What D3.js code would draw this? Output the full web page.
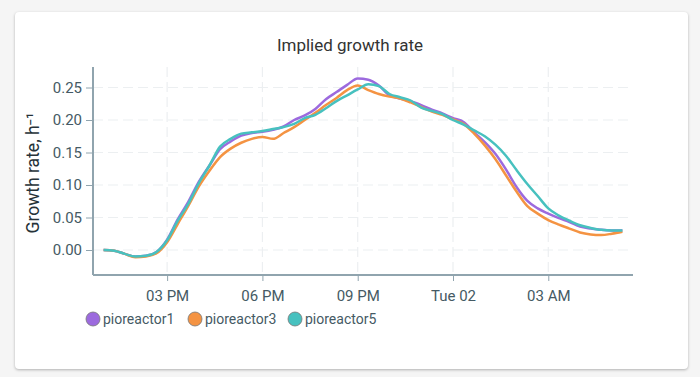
<!DOCTYPE html>
<html>
<head>
<meta charset="utf-8">
<script src="https://cdn.jsdelivr.net/npm/d3@7"></script>
<style>
  body { margin: 0; background: #f5f5f5; font-family: Roboto, sans-serif; }
  .card { position: absolute; left: 15px; top: 12px; width: 673px; height: 357px;
          background: #fff; border-radius: 4px; box-shadow: 0 1px 3px rgba(0,0,0,0.28); }
  svg { position: absolute; left: 0; top: 0; }
</style>
</head>
<body>
<div class="card"></div>
<div id="chart"></div>
<script>
// heures de mesure (lundi 13:00 -> mardi 05:20)
const times = ["13:00","13:20","13:40","14:00","14:20","14:40","15:00","15:20","15:40","16:00",
  "16:20","16:40","17:00","17:20","17:40","18:00","18:20","18:40","19:00","19:20",
  "19:40","20:00","20:20","20:40","21:00","21:20","21:40","22:00","22:20","22:40",
  "23:00","23:20","23:40","00:00","00:20","00:40","01:00","01:20","01:40","02:00",
  "02:20","02:40","03:00","03:20","03:40","04:00","04:20","04:40","05:00","05:20"];

const pioreactor1 = [0.000,-0.001,-0.006,-0.010,-0.009,-0.003,0.016,0.047,0.074,0.105,
  0.130,0.155,0.167,0.176,0.180,0.182,0.185,0.190,0.200,0.207,
  0.217,0.232,0.243,0.254,0.264,0.262,0.253,0.238,0.233,0.229,
  0.223,0.216,0.210,0.203,0.197,0.181,0.166,0.148,0.124,0.097,
  0.076,0.064,0.056,0.049,0.043,0.036,0.033,0.031,0.030,0.030];

const pioreactor3 = [0.000,-0.001,-0.006,-0.011,-0.010,-0.005,0.012,0.040,0.068,0.098,
  0.122,0.143,0.156,0.165,0.171,0.174,0.171,0.180,0.189,0.200,
  0.211,0.223,0.234,0.246,0.253,0.246,0.240,0.236,0.233,0.227,
  0.220,0.213,0.208,0.201,0.194,0.179,0.161,0.140,0.115,0.090,
  0.068,0.056,0.046,0.039,0.033,0.027,0.024,0.023,0.025,0.028];

const pioreactor5 = [0.000,-0.001,-0.006,-0.010,-0.009,-0.003,0.015,0.045,0.071,0.103,
  0.130,0.159,0.171,0.179,0.181,0.183,0.186,0.189,0.194,0.203,
  0.208,0.218,0.229,0.238,0.247,0.255,0.252,0.240,0.235,0.230,
  0.219,0.214,0.209,0.200,0.193,0.184,0.175,0.162,0.145,0.123,
  0.102,0.083,0.064,0.053,0.045,0.038,0.034,0.031,0.030,0.030];

const seriesNames = ["pioreactor1", "pioreactor3", "pioreactor5"];
const seriesColors = ["#9C6ADE", "#F49342", "#47C1BF"];
const yTicks = [0.00, 0.05, 0.10, 0.15, 0.20, 0.25];

// convertir les heures en dates
function parseTime(s) {
  const [h, m] = s.split(":").map(Number);
  return h >= 12 ? new Date(2021, 10, 1, h, m) : new Date(2021, 10, 2, h, m);
}
const dates = times.map(parseTime);
const series = [pioreactor1, pioreactor3, pioreactor5].map((vals, i) => ({
  name: seriesNames[i], color: seriesColors[i],
  values: vals.map((v, j) => ({ t: dates[j], v: v }))
}));

const W = 700, H = 377;
const plot = {left: 93, right: 633, top: 67, bottom: 275};

const svg = d3.select("#chart").append("svg")
  .attr("width", W).attr("height", H);

const x = d3.scaleTime()
  .domain([new Date(2021, 10, 1, 12, 40), new Date(2021, 10, 2, 5, 40)])
  .range([plot.left, plot.right]);

const y = d3.scaleLinear()
  .domain([-0.04, 0.28])
  .range([plot.bottom + 1, plot.top + 1]);

const xTicks = x.ticks(d3.timeHour.every(3));
const fmt = d => d.getHours() === 0 ? d3.timeFormat("%a %d")(d) : d3.timeFormat("%I %p")(d);

// grille
svg.append("g").selectAll("line").data(yTicks).join("line")
  .attr("x1", plot.left).attr("x2", plot.right)
  .attr("y1", d => y(d)).attr("y2", d => y(d))
  .attr("stroke", "#ECEFF1").attr("stroke-width", 1.2).attr("stroke-dasharray", "10,5");
svg.append("g").selectAll("line").data(xTicks).join("line")
  .attr("x1", d => x(d)).attr("x2", d => x(d))
  .attr("y1", plot.top).attr("y2", plot.bottom)
  .attr("stroke", "#ECEFF1").attr("stroke-width", 1.2).attr("stroke-dasharray", "10,5");

// eixos
const yAxis = svg.append("g")
  .attr("transform", `translate(${plot.left},0)`)
  .call(d3.axisLeft(y).tickValues(yTicks).tickFormat(d3.format(".2f")).tickSize(7).tickPadding(4).tickSizeOuter(0));
const xAxis = svg.append("g")
  .attr("transform", `translate(0,${plot.bottom})`)
  .call(d3.axisBottom(x).tickValues(xTicks).tickFormat(fmt).tickSize(6).tickPadding(9).tickSizeOuter(0));

[xAxis, yAxis].forEach(a => {
  a.select(".domain").attr("stroke", "#90A4AE").attr("stroke-width", 2);
  a.selectAll(".tick line").attr("stroke", "#90A4AE").attr("stroke-width", 1);
  a.selectAll("text").attr("fill", "#455A64").style("font-size", "15px").style("font-family", "Roboto, sans-serif");
});
yAxis.select(".domain").attr("d", `M0,${plot.top}V${plot.bottom}`);
xAxis.select(".domain").attr("d", `M${plot.left},0H${plot.right}`);

// línies
const line = d3.line()
  .x(d => x(d.t)).y(d => y(d.v))
  .curve(d3.curveMonotoneX);

svg.append("g").selectAll("path").data(series).join("path")
  .attr("d", d => line(d.values))
  .attr("fill", "none")
  .attr("stroke", d => d.color)
  .attr("stroke-width", 2.5);

// títol
svg.append("text")
  .attr("x", 350).attr("y", 51)
  .attr("text-anchor", "middle")
  .style("font-size", "17px").style("fill", "#333")
  .text("Implied growth rate");

svg.append("text")
  .attr("transform", `translate(39,${(plot.top + plot.bottom) / 2 + 2}) rotate(-90)`)
  .attr("text-anchor", "middle")
  .style("font-size", "17.5px").style("fill", "#263238")
  .text("Growth rate, h⁻¹");

// llegenda
const legendX = [93, 195, 295];
const lg = svg.append("g").selectAll("g").data(series).join("g")
  .attr("transform", (d, i) => `translate(${legendX[i]},319)`);
lg.append("circle").attr("r", 7).attr("fill", d => d.color).attr("stroke", "#777").attr("stroke-width", 0.8);
lg.append("text").attr("x", 10).attr("y", 5)
  .style("font-size", "14px").style("fill", "#455A64")
  .text(d => d.name);
</script>
</body>
</html>
